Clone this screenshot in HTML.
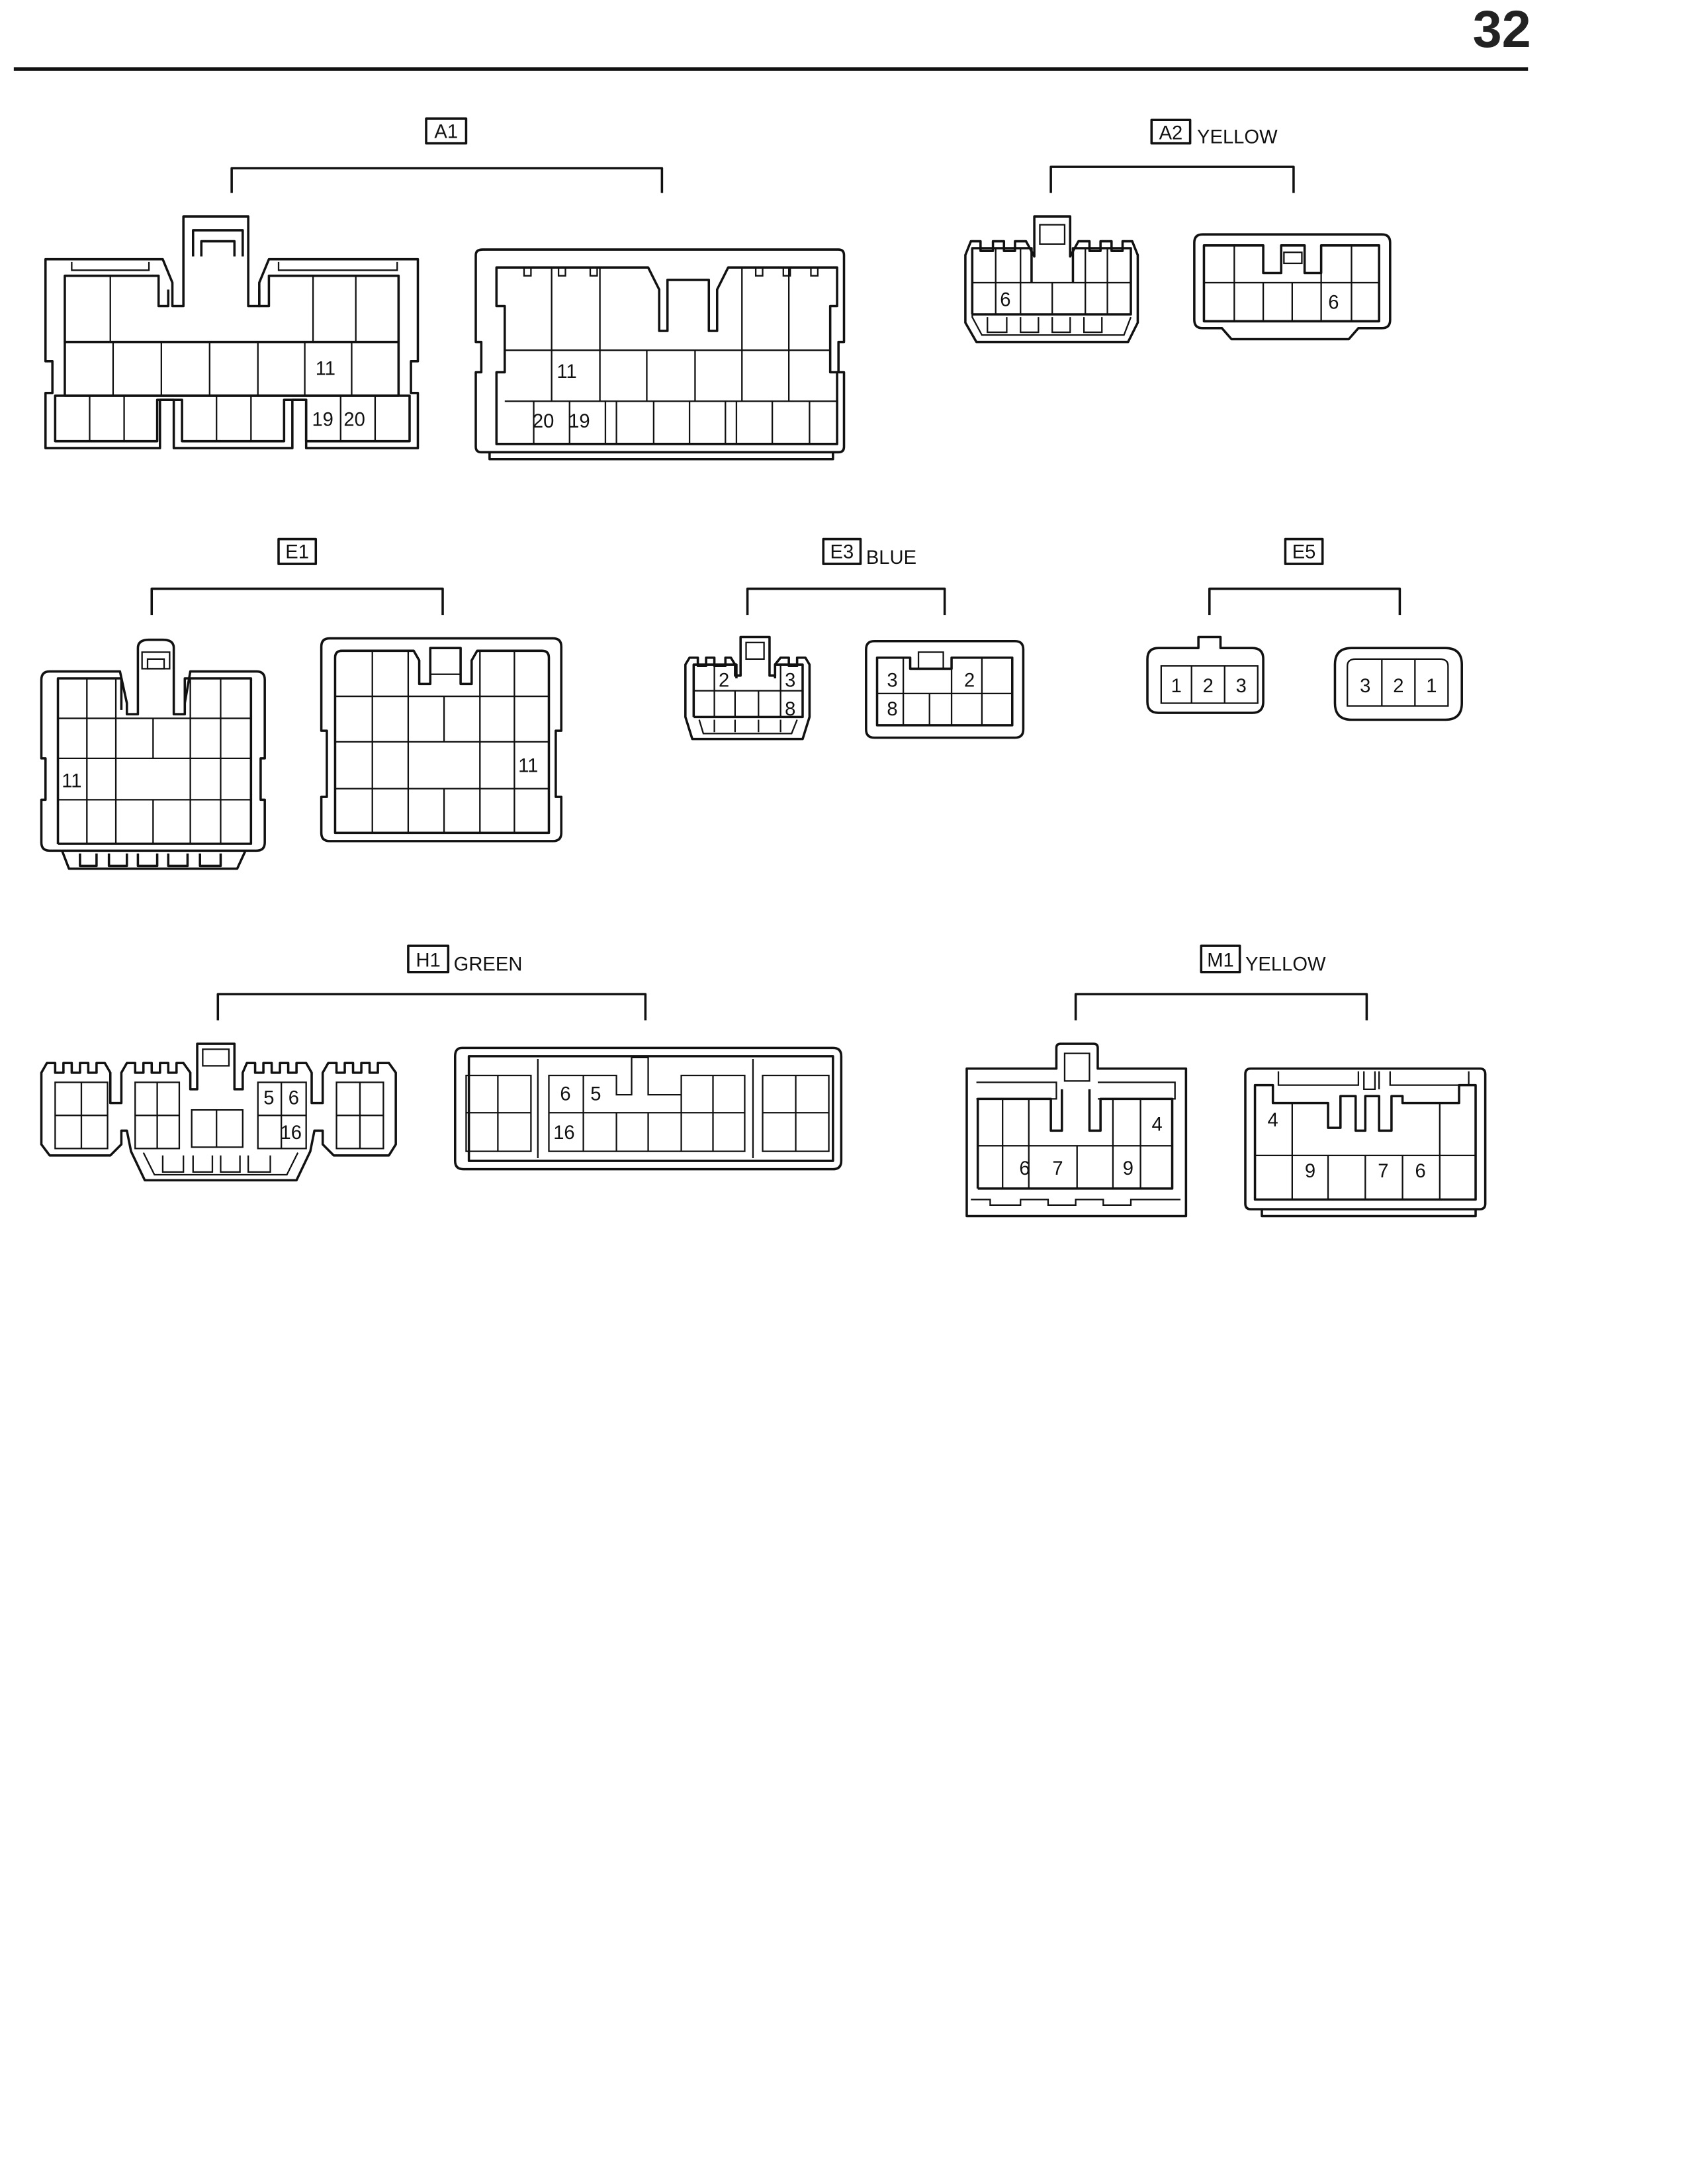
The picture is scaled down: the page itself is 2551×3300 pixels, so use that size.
<!DOCTYPE html>
<html><head><meta charset="utf-8"><style>
html,body{margin:0;padding:0;background:#fff}
svg{display:block}
.o{fill:none;stroke:#111;stroke-width:1.7;stroke-linejoin:round}
.g{fill:none;stroke:#111;stroke-width:1.1}
.t{font-family:"Liberation Sans Narrow","Liberation Sans",sans-serif;font-size:14px;fill:#111;text-anchor:middle}
.l{font-family:"Liberation Sans Narrow","Liberation Sans",sans-serif;font-size:14px;fill:#111}
</style></head><body>
<svg width="2551" height="3300" viewBox="0 0 1224 1584" preserveAspectRatio="none" xmlns="http://www.w3.org/2000/svg">
<text x="1089" y="34" style="font-family:'Liberation Sans',sans-serif;font-weight:bold;font-size:38px;fill:#222;text-anchor:middle">32</text>
<line x1="10" y1="50" x2="1108" y2="50" stroke="#111" stroke-width="2.6"/>

<!-- labels & brackets -->
<rect x="309" y="86" width="29" height="18" class="o"/><text x="323.5" y="100" class="t">A1</text>
<path d="M168,140V122H480V140" class="o"/>
<rect x="835" y="87" width="28" height="17" class="o"/><text x="849" y="101" class="t">A2</text><text x="868" y="104" class="l">YELLOW</text>
<path d="M762,140V121H938V140" class="o"/>
<rect x="202" y="391" width="27" height="18" class="o"/><text x="215.5" y="405" class="t">E1</text>
<path d="M110,446V427H321V446" class="o"/>
<rect x="597" y="391" width="27" height="18" class="o"/><text x="610.5" y="405" class="t">E3</text><text x="628" y="409" class="l">BLUE</text>
<path d="M542,446V427H685V446" class="o"/>
<rect x="932" y="391" width="27" height="18" class="o"/><text x="945.5" y="405" class="t">E5</text>
<path d="M877,446V427H1015V446" class="o"/>
<rect x="296" y="686" width="29" height="19" class="o"/><text x="310.5" y="701" class="t">H1</text><text x="329" y="704" class="l">GREEN</text>
<path d="M158,740V721H468V740" class="o"/>
<rect x="871" y="686" width="28" height="19" class="o"/><text x="885" y="701" class="t">M1</text><text x="903" y="704" class="l">YELLOW</text>
<path d="M780,740V721H991V740" class="o"/>

<!-- A1 left -->
<path class="o" d="M33,188H118L125,205V222H133V157H180V222H188V205L195,188H303V262H298V285H303V325H222V290H212V325H126V290H116V325H33V285H38V262H33Z"/>
<path class="o" d="M140,186V167H176V186M146,186V175H170V186"/>
<path class="g" d="M52,190V196H108V190M202,190V196H288V190"/>
<path class="o" d="M47,248V200H115V222H122V210M188,210V222H195V200H289V248"/>
<path class="g" d="M80,200V248M227,200V248M258,200V248"/>
<rect class="o" x="47" y="248" width="242" height="39"/>
<path class="g" d="M82,248V287M117,248V287M152,248V287M187,248V287M221,248V287M255,248V287"/>
<path class="o" d="M40,287H297V320H222V290H206V320H132V290H114V320H40Z"/>
<path class="g" d="M65,287V320M90,287V320M157,287V320M182,287V320M247,287V320M272,287V320"/>
<text x="236" y="272" class="t">11</text><text x="234" y="309" class="t">19</text><text x="257" y="309" class="t">20</text>

<!-- A1 right -->
<path class="o" d="M350,181H608Q612,181 612,185V248H608V270H612V324Q612,328 608,328H349Q345,328 345,324V270H349V248H345V185Q345,181 350,181Z"/>
<path class="o" d="M355,328V333H604V328"/>
<path class="o" d="M360,194H470L478,210V240H484V203H514V240H520V210L528,194H607V222H602V270H607V322H360V270H366V222H360Z"/>
<path class="g" d="M380,194V200H385V194M405,194V200H410V194M428,194V200H433V194M548,194V200H553V194M568,194V200H573V194M588,194V200H593V194"/>
<path class="g" d="M400,194V254M435,194V254M538,194V254M572,194V254"/>
<path class="g" d="M366,254H602M366,291H607M400,254V291M435,254V291M469,254V291M504,254V291M538,254V291M572,254V291"/>
<path class="g" d="M387,291V322M413,291V322M439,291V322M447,291V322M474,291V322M500,291V322M526,291V322M534,291V322M560,291V322M587,291V322"/>
<text x="411" y="274" class="t">11</text><text x="394" y="310" class="t">20</text><text x="420" y="310" class="t">19</text>

<!-- A2 left -->
<path class="o" d="M704,175H711V182H720V175H728V182H736V175H744L750,186V157H776V186L782,175H790V182H798V175H806V182H814V175H821L825,185V234L818,248H708L700,234V185Z"/>
<rect class="g" x="754" y="163" width="18" height="14"/>
<path class="o" d="M705,228V180H748V205M778,205V180H820V228H705"/>
<path class="g" d="M705,205H820M722,180V228M740,180V228M763,205V228M787,180V228M803,180V228"/>
<path class="g" d="M705,228V230L712,243H815L820,230M716,230V241H730V230M740,230V241H753V230M763,230V241H776V230M786,230V241H799V230"/>
<text x="729" y="222" class="t">6</text>

<!-- A2 right -->
<path class="o" d="M872,170H1002Q1008,170 1008,176V232Q1008,238 1002,238H985L978,246H893L886,238H872Q866,238 866,232V176Q866,170 872,170Z"/>
<path class="o" d="M873,178H916V198H929V178H946V198H958V178H1000V233H873Z"/>
<rect class="g" x="931" y="183" width="13" height="8"/>
<path class="g" d="M873,205H1000M895,178V233M916,205V233M937,205V233M958,178V233M980,178V233"/>
<text x="967" y="224" class="t">6</text>

<!-- E1 left -->
<path class="o" d="M36,487H87L92,510V518H100V470Q100,464 108,464H118Q126,464 126,470V518H134V510L138,487H186Q192,487 192,493V550H189V580H192V611Q192,617 186,617H36Q30,617 30,611V580H33V550H30V493Q30,487 36,487Z"/>
<rect class="g" x="103" y="473" width="20" height="12"/><rect class="g" x="107" y="478" width="12" height="7"/>
<path class="o" d="M42,612V492H88V515M134,515V492H182V612H42"/>
<path class="g" d="M42,521H182M42,550H182M42,580H182M63,492V612M84,492V612M138,492V612M160,492V612M111,521V550M111,580V612"/>
<path class="o" d="M45,617L50,630H172L178,617M58,619V628H70V619M79,619V628H92V619M100,619V628H114V619M122,619V628H136V619M145,619V628H160V619"/>
<text x="52" y="571" class="t">11</text>

<!-- E1 right -->
<path class="o" d="M239,463H401Q407,463 407,469V530H403V578H407V604Q407,610 401,610H239Q233,610 233,604V578H237V530H233V469Q233,463 239,463Z"/>
<path class="o" d="M248,472H300L304,479V496H312V470H334V496H342V479L346,472H393Q398,472 398,477V604H243V477Q243,472 248,472Z"/>
<path class="g" d="M243,505H398M243,538H398M243,572H398M270,472V604M296,472V604M322,505V538M322,572V604M348,472V604M373,472V604M312,489H334"/>
<text x="383" y="560" class="t">11</text>

<!-- E3 left -->
<path class="o" d="M500,477H506V483H512V477H518V483H526V477H530L533,482V490H537V462H558V490H562V482L566,477H572V483H578V477H584L587,482V520L582,536H502L497,520V482Z"/>
<rect class="g" x="541" y="466" width="13" height="12"/>
<path class="o" d="M503,520V482H534V492M562,492V482H582V520H503"/>
<path class="g" d="M503,501H582M518,482V520M533,501V520M550,501V520M566,482V520"/>
<path class="g" d="M507,522L510,532H574L578,522M518,522V531M533,522V531M550,522V531M566,522V531"/>
<text x="525" y="498" class="t">2</text><text x="573" y="498" class="t">3</text><text x="573" y="519" class="t">8</text>

<!-- E3 right -->
<path class="o" d="M634,465H736Q742,465 742,471V529Q742,535 736,535H634Q628,535 628,529V471Q628,465 634,465Z"/>
<path class="o" d="M636,477H660V485H690V477H734V526H636Z"/>
<rect class="g" x="666" y="473" width="18" height="12"/>
<path class="g" d="M636,503H734M655,477V526M674,503V526M690,477V526M712,477V526"/>
<text x="647" y="498" class="t">3</text><text x="647" y="519" class="t">8</text><text x="703" y="498" class="t">2</text>

<!-- E5 left -->
<path class="o" d="M840,470H869V462H885V470H908Q916,470 916,478V509Q916,517 908,517H840Q832,517 832,509V478Q832,470 840,470Z"/>
<path class="g" d="M842,483H912V510H842Z M864,483V510M888,483V510"/>
<text x="853" y="502" class="t">1</text><text x="876" y="502" class="t">2</text><text x="900" y="502" class="t">3</text>

<!-- E5 right -->
<path class="o" d="M980,470H1048Q1060,470 1060,482V510Q1060,522 1048,522H980Q968,522 968,510V482Q968,470 980,470Z"/>
<path class="g" d="M977,483Q977,478 983,478H1044Q1050,478 1050,483V512H977Z M1002,478V512M1026,478V512"/>
<text x="990" y="502" class="t">3</text><text x="1014" y="502" class="t">2</text><text x="1038" y="502" class="t">1</text>

<!-- H1 left -->
<path class="o" d="M34,771H40V778H46V771H52V778H58V771H64V778H70V771H76L80,778V800H88V778L92,771H98V778H104V771H110V778H116V771H122V778H128V771H133L138,778V790H143V757H170V790H176V778L179,771H185V778H191V771H197V778H203V771H209V778H215V771H222L226,778V800H234V778L238,771H244V778H250V771H256V778H262V771H268V778H274V771H282L287,778V830L282,838H242L234,830V820H228L225,835L215,856H105L95,835L92,820H88V830L80,838H36L30,830V778Z"/>
<rect class="g" x="147" y="761" width="19" height="12"/>
<path class="g" d="M40,785H78V833H40Z M59,785V833M40,809H78"/>
<path class="g" d="M98,785H130V833H98Z M114,785V833M98,809H130"/>
<path class="g" d="M139,805H176V832H139Z M157,805V832"/>
<path class="g" d="M187,785H222V833H187Z M204,785V833M187,809H222"/>
<path class="g" d="M244,785H278V833H244Z M261,785V833M244,809H278"/>
<path class="g" d="M104,836L112,852H208L216,836M118,838V850H133V838M140,838V850H154V838M160,838V850H174V838M180,838V850H196V838"/>
<text x="195" y="801" class="t">5</text><text x="213" y="801" class="t">6</text><text x="211" y="826" class="t">16</text>

<!-- H1 right -->
<path class="o" d="M335,760H604Q610,760 610,766V842Q610,848 604,848H336Q330,848 330,842V766Q330,760 335,760Z"/>
<path class="o" d="M340,766H604V842H340Z"/>
<path class="g" d="M338,780H385V835H338Z M361,780V835M338,807H385"/>
<path class="g" d="M398,780H447V794H458V767H470V794H494V780H540V835H398Z M423,780V835M447,807V835M470,807V835M494,780V835M517,780V835M398,807H540"/>
<path class="g" d="M553,780H601V835H553Z M577,780V835M553,807H601"/>
<path class="g" d="M390,768V840M546,768V840"/>
<text x="410" y="798" class="t">6</text><text x="432" y="798" class="t">5</text><text x="409" y="826" class="t">16</text>

<!-- M1 left -->
<path class="o" d="M701,775H766V760Q766,757 769,757H793Q796,757 796,760V775H860V882H701Z"/>
<rect class="g" x="772" y="764" width="18" height="20"/>
<path class="g" d="M708,785H766V797H708M796,797H852V785H796"/>
<path class="o" d="M709,862V797H762V820H770V790M790,790V820H798V797H850V862H709"/>
<path class="g" d="M709,831H850M727,797V862M746,797V862M781,831V862M807,797V862M827,797V862"/>
<path class="g" d="M704,870H718V874H740V870H760V874H780V870H800V874H820V870H856"/>
<text x="839" y="820" class="t">4</text><text x="743" y="852" class="t">6</text><text x="767" y="852" class="t">7</text><text x="818" y="852" class="t">9</text>

<!-- M1 right -->
<path class="o" d="M907,775H1073Q1077,775 1077,779V873Q1077,877 1073,877H907Q903,877 903,873V779Q903,775 907,775Z"/>
<path class="o" d="M915,877V882H1070V877"/>
<path class="g" d="M927,777V787H985V777M1008,777V787H1065V777M989,777V790H997V777M1000,777V790"/>
<path class="o" d="M910,787H923V800H963V818H972V795H983V820H990V795H1000V820H1009V795H1017V800H1058V787H1070V870H910Z"/>
<path class="g" d="M910,838H1070M937,800V870M963,838V870M990,838V870M1017,838V870M1044,800V870"/>
<text x="923" y="817" class="t">4</text><text x="950" y="854" class="t">9</text><text x="1003" y="854" class="t">7</text><text x="1030" y="854" class="t">6</text>
</svg>
</body></html>
